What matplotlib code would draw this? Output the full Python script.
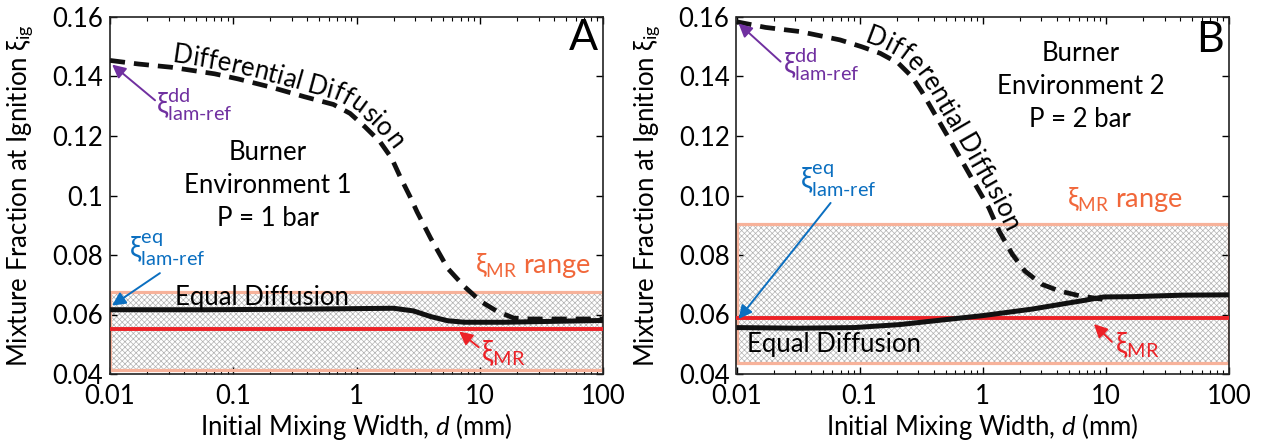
import numpy as np
import matplotlib
matplotlib.use("Agg")
import matplotlib.pyplot as plt
from matplotlib.font_manager import FontProperties

plt.rcParams['font.family'] = ['Lato', 'DejaVu Sans']
plt.rcParams['mathtext.fontset'] = 'custom'
plt.rcParams['mathtext.rm'] = 'Lato'
plt.rcParams['mathtext.it'] = 'Lato:italic'
plt.rcParams['mathtext.bf'] = 'Lato:bold'
plt.rcParams['mathtext.fallback'] = 'stixsans'
plt.rcParams['hatch.linewidth'] = 0.5

# panel A : burner environment 1, P = 1 bar
dd_x_a = [0.01, 0.017, 0.0315, 0.0706, 0.109, 0.203, 0.378, 0.65, 0.886, 1.17, 1.55,
          1.93, 2.26, 2.72, 3.1, 4.0, 5.5, 7.5, 10.2, 13.9, 18.9, 25.6, 100]
dd_y_a = [0.1454, 0.1442, 0.1431, 0.1409, 0.1392, 0.1364, 0.1332, 0.1306, 0.1276, 0.1231, 0.1181,
          0.1125, 0.1063, 0.0996, 0.0945, 0.0856, 0.0755, 0.0694, 0.0644, 0.0610, 0.0588, 0.0585, 0.0585]
eq_x_a = [0.01, 0.059, 0.38, 2.0, 2.9, 4.0, 5.5, 7.5, 15.7, 100]
eq_y_a = [0.0616, 0.0616, 0.0618, 0.0621, 0.0612, 0.0593, 0.0579, 0.0574, 0.0574, 0.0580]
mr_a = 0.0550
mr_range_a = (0.0415, 0.0677)

# panel B : burner environment 2, P = 2 bar
dd_x_b = [0.01, 0.0172, 0.0328, 0.0477, 0.0693, 0.104, 0.147, 0.206, 0.265, 0.319, 0.41,
          0.53, 0.68, 0.87, 1.12, 1.36, 1.74, 2.2, 3.0, 4.2, 6.1, 9.4]
dd_y_b = [0.1584, 0.1565, 0.1551, 0.1537, 0.1523, 0.1500, 0.1478, 0.1445, 0.1400, 0.1350, 0.1272,
          0.1193, 0.1115, 0.1037, 0.0959, 0.0880, 0.0802, 0.0746, 0.0702, 0.0679, 0.0663, 0.0651]
eq_x_b = [0.01, 0.032, 0.09, 0.21, 0.39, 0.99, 2.5, 4.7, 6.8, 9.6, 16.5, 42, 100]
eq_y_b = [0.0556, 0.0554, 0.0556, 0.0566, 0.0578, 0.0596, 0.0618, 0.0637, 0.0648, 0.0659,
          0.0660, 0.0665, 0.0666]
mr_b = 0.0588
mr_range_b = (0.0436, 0.0903)

x_ticks = [0.01, 0.1, 1, 10, 100]
x_ticklabels = ['0.01', '0.1', '1', '10', '100']
y_ticks = [0.04, 0.06, 0.08, 0.10, 0.12, 0.14, 0.16]
y_ticklabels_a = ['0.04', '0.06', '0.08', '0.1', '0.12', '0.14', '0.16']
y_ticklabels_b = ['0.04', '0.06', '0.08', '0.10', '0.12', '0.14', '0.16']

PURPLE = '#7030a0'
BLUE = '#0b6fc0'
RED = '#ec2227'
ORANGE = '#f1673a'
SALMON = '#f7b29a'
FS = 18.5

fig = plt.figure(figsize=(12.67, 4.43), dpi=100)
ax_a = fig.add_axes([110 / 1267, 1 - 374 / 443, 493 / 1267, 357 / 443])
ax_b = fig.add_axes([736.5 / 1267, 1 - 374 / 443, 492.5 / 1267, 357 / 443])


def curve_text(ax, xs, ys, s, x_start, offset, size=FS):
    # lay the string out letter by letter along the curve, shifted to its upper side
    renderer = fig.canvas.get_renderer()
    fp = FontProperties(family=['Lato', 'DejaVu Sans'], size=size)
    pts = ax.transData.transform(np.column_stack([xs, ys]))
    seg = np.diff(pts, axis=0)
    arc = np.concatenate([[0], np.cumsum(np.hypot(seg[:, 0], seg[:, 1]))])

    def at(d):
        return np.array([np.interp(d, arc, pts[:, 0]), np.interp(d, arc, pts[:, 1])])

    def adv(i):
        if i == 0:
            return 0.0
        w1 = renderer.get_text_width_height_descent(s[:i] + 'I', fp, ismath=False)[0]
        w0 = renderer.get_text_width_height_descent('I', fp, ismath=False)[0]
        return w1 - w0

    x0 = ax.transData.transform((x_start, ys[0]))[0]
    d0 = np.interp(x0, pts[:, 0], arc)
    for i, ch in enumerate(s):
        a0, a1 = adv(i), adv(i + 1)
        w = a1 - a0
        mid = d0 + a0 + w / 2
        p1, p2 = at(mid - w / 2 - 4), at(mid + w / 2 + 4)
        ang = np.arctan2(p2[1] - p1[1], p2[0] - p1[0])
        nrm = np.array([-np.sin(ang), np.cos(ang)])
        pos = ax.transData.inverted().transform(at(mid) + nrm * offset)
        ax.text(pos[0], pos[1], ch, rotation=np.degrees(ang), rotation_mode='anchor',
                ha='center', va='baseline', fontproperties=fp, zorder=6)


def setup(ax, yticklabels):
    ax.set_xscale('log')
    ax.set_xlim(0.01, 100)
    ax.set_ylim(0.04, 0.16)
    ax.set_xticks(x_ticks)
    ax.set_xticklabels(x_ticklabels)
    ax.set_yticks(y_ticks)
    ax.set_yticklabels(yticklabels)
    ax.tick_params(which='both', direction='in', top=True, right=True, labelsize=FS)
    ax.tick_params(which='major', length=5, width=1, pad=5)
    ax.tick_params(which='minor', length=3, width=0.8)
    ax.tick_params(axis='x', pad=7)
    for sp in ax.spines.values():
        sp.set_linewidth(1.2)
        sp.set_color('#222222')
    ax.set_xlabel('Initial Mixing Width, $\\mathit{d}$ (mm)', fontsize=FS)
    ax.set_ylabel('Mixture Fraction at Ignition $\\mathrm{\\xi}_{\\mathrm{ig}}$', fontsize=FS)
    ax.yaxis.set_label_coords(-0.15, 0.5)
    ax.xaxis.set_label_coords(0.5, -0.105)


def draw_panel(ax, dd_x, dd_y, eq_x, eq_y, mr, mr_range):
    lo, hi = mr_range
    ax.fill_between([0.01, 100], lo, hi, facecolor='none', edgecolor='#b2b2b2',
                    hatch='xxxxxx', linewidth=0, zorder=1)
    ax.fill_between([0.01, 100], lo, hi, facecolor='none', edgecolor=SALMON,
                    linewidth=2.3, zorder=2)
    ax.axhline(mr, color=RED, lw=2.8, zorder=3)
    ax.plot(dd_x, dd_y, color='#111111', lw=3.4, ls=(0, (3.2, 1.9)), zorder=4)
    ax.plot(eq_x, eq_y, color='#111111', lw=3.6, solid_capstyle='butt', zorder=5)


def label(ax, x, y, sup, color, size=FS + 2):
    ax.text(x, y, '$\\mathrm{\\xi}^{\\mathrm{%s}}_{\\mathrm{lam\\text{-}ref}}$' % sup,
            color=color, fontsize=size, ha='left', va='center', zorder=7)


def arrow(ax, head, tail, color, lw=1.4):
    ax.annotate('', xy=head, xytext=tail,
                arrowprops=dict(arrowstyle='-|>', color=color, lw=lw, mutation_scale=20,
                                shrinkA=0, shrinkB=0), zorder=7)


for ax, tl in ((ax_a, y_ticklabels_a), (ax_b, y_ticklabels_b)):
    setup(ax, tl)

draw_panel(ax_a, dd_x_a, dd_y_a, eq_x_a, eq_y_a, mr_a, mr_range_a)
draw_panel(ax_b, dd_x_b, dd_y_b, eq_x_b, eq_y_b, mr_b, mr_range_b)

# panel A annotations
ax_a.text(0.961, 0.94, 'A', transform=ax_a.transAxes, fontsize=31, ha='center', va='center')
ax_a.text(0.19, 0.1035, 'Burner\nEnvironment 1\nP = 1 bar', fontsize=FS, ha='center',
          va='center', linespacing=1.4)
ax_a.text(0.0336, 0.0633, 'Equal Diffusion', fontsize=FS, ha='left', va='baseline', zorder=7)
label(ax_a, 0.0235, 0.1305, 'dd', PURPLE)
arrow(ax_a, (0.0104, 0.1440), (0.0232, 0.1320), PURPLE)
label(ax_a, 0.0142, 0.0818, 'eq', BLUE)
arrow(ax_a, (0.0104, 0.0630), (0.0254, 0.0739), BLUE)
ax_a.text(9.2, 0.0765, '$\\mathrm{\\xi}_{\\mathrm{MR}}$ range', color=ORANGE, fontsize=FS + 1,
          ha='left', va='center', zorder=7)
ax_a.text(10.3, 0.0470, '$\\mathrm{\\xi}_{\\mathrm{MR}}$', color=RED, fontsize=FS + 2,
          ha='left', va='center', zorder=7)
arrow(ax_a, (6.8, 0.0543), (9.8, 0.0490), RED)
curve_text(ax_a, dd_x_a, dd_y_a, 'Differential Diffusion', 0.0315, 5)

# panel B annotations
ax_b.text(0.961, 0.935, 'B', transform=ax_b.transAxes, fontsize=31, ha='center', va='center')
ax_b.text(6.2, 0.1366, 'Burner\nEnvironment 2\nP = 2 bar', fontsize=FS, ha='center',
          va='center', linespacing=1.4)
ax_b.text(0.0122, 0.0473, 'Equal Diffusion', fontsize=FS, ha='left', va='baseline', zorder=7)
label(ax_b, 0.0240, 0.1440, 'dd', PURPLE)
arrow(ax_b, (0.0104, 0.1578), (0.0228, 0.1450), PURPLE)
label(ax_b, 0.0325, 0.1050, 'eq', BLUE)
arrow(ax_b, (0.0104, 0.0585), (0.0581, 0.0975), BLUE)
ax_b.text(4.8, 0.0985, '$\\mathrm{\\xi}_{\\mathrm{MR}}$ range', color=ORANGE, fontsize=FS + 1,
          ha='left', va='center', zorder=7)
ax_b.text(11.8, 0.0497, '$\\mathrm{\\xi}_{\\mathrm{MR}}$', color=RED, fontsize=FS + 2,
          ha='left', va='center', zorder=7)
arrow(ax_b, (8.0, 0.0568), (11.2, 0.0508), RED)
curve_text(ax_b, dd_x_b, dd_y_b, 'Differential Diffusion', 0.105, 5)

fig.savefig('out.png', dpi=100)
